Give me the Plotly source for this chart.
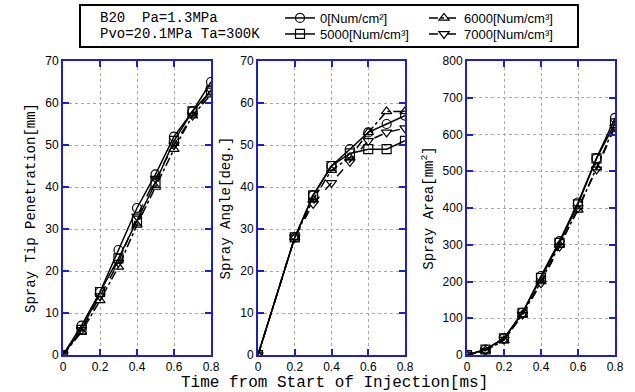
import plotly.graph_objects as go

# ---------------- data ----------------
t_pen = [0, 0.1, 0.2, 0.3, 0.4, 0.5, 0.6, 0.7, 0.8]
pen_0 = [0, 7, 15, 25, 35, 43, 52, 58, 65]
pen_5000 = [0, 6, 15, 23, 32, 41, 51, 58, 63]
pen_6000 = [0, 5.5, 13, 21, 31, 40, 49, 57, 62]
pen_7000 = [0, 6, 14, 22, 33, 42, 50, 57, 63]

t_ang = [0, 0.2, 0.3, 0.4, 0.5, 0.6, 0.7, 0.8]
ang_0 = [0, 28, 38, 45, 49, 53, 55, 57]
ang_5000 = [0, 28, 38, 45, 48, 49, 49, 51]
ang_6000 = [0, 28, 37, 44, 47, 53, 58, 58]
ang_7000 = [0, 28, 36, 41, 46, 51, 53, 54]

t_area = [0, 0.1, 0.2, 0.3, 0.4, 0.5, 0.6, 0.7, 0.8]
area_0 = [0, 15, 45, 115, 215, 310, 415, 535, 645]
area_5000 = [0, 15, 45, 115, 210, 305, 410, 535, 630]
area_6000 = [0, 12, 40, 110, 200, 300, 395, 510, 625]
area_7000 = [0, 12, 42, 110, 195, 295, 400, 505, 620]

series_names = ["0[Num/cm²]", "6000[Num/cm³]", "5000[Num/cm³]", "7000[Num/cm³]"]
series_keys = ["0", "6000", "5000", "7000"]
series_legend = ["legend", "legend", "legend2", "legend2"]
x_ticks = [0, 0.2, 0.4, 0.6, 0.8]
x_tick_text = ["0", "0.2", "0.4", "0.6", "0.8"]

styles = {
    "0": dict(symbol="circle-open", dash="solid"),
    "5000": dict(symbol="square-open", dash="solid"),
    "6000": dict(symbol="triangle-up-open", dash="dashdot"),
    "7000": dict(symbol="triangle-down-open", dash="dash"),
}

panels = [
    (t_pen, {"0": pen_0, "5000": pen_5000, "6000": pen_6000, "7000": pen_7000}),
    (t_ang, {"0": ang_0, "5000": ang_5000, "6000": ang_6000, "7000": ang_7000}),
    (t_area, {"0": area_0, "5000": area_5000, "6000": area_6000, "7000": area_7000}),
]

fig = go.Figure()
W = 635.0
PH = 294.0  # plot height in px
domains = [[63 / W, 211 / W], [258 / W, 405 / W], [467 / W, 615 / W]]

for i, (tx, d) in enumerate(panels):
    xa = "x" if i == 0 else f"x{i+1}"
    ya = "y" if i == 0 else f"y{i+1}"
    for name, key, lg in zip(series_names, series_keys, series_legend):
        st = styles[key]
        fig.add_trace(go.Scatter(
            x=tx, y=d[key], mode="lines+markers", name=name,
            xaxis=xa, yaxis=ya, showlegend=(i == 0), legend=lg,
            line=dict(color="black", width=1.5, dash=st["dash"]),
            marker=dict(symbol=st["symbol"], size=9, color="black",
                        line=dict(width=1.2, color="black")),
        ))

BLUE = "#1f1fc8"
tickfont = dict(family="Liberation Sans, sans-serif", size=12, color="black")
titlefont = dict(family="Liberation Mono, DejaVu Sans Mono, monospace", size=14, color="black")

y_titles = ["Spray Tip Penetration[mm]", "Spray Angle[deg.]", "Spray Area[mm<sup>2</sup>]"]
y_ranges = [[0, 70], [0, 70], [0, 800]]
y_dticks = [10, 10, 100]

axis_common = dict(
    showline=True, linecolor=BLUE, linewidth=2, mirror="ticks",
    ticks="inside", tickcolor=BLUE, ticklen=6, tickwidth=2,
    showgrid=True, gridcolor="#a8a8a8", griddash="dot", gridwidth=1,
    zeroline=False, tickfont=tickfont,
)

for i in range(3):
    sfx = "" if i == 0 else str(i + 1)
    fig.layout["xaxis" + sfx] = dict(
        domain=domains[i], range=[0, 0.8], tickvals=x_ticks, ticktext=x_tick_text,
        anchor="y" + sfx, ticklabelstandoff=0, **axis_common)
    fig.layout["yaxis" + sfx] = dict(
        domain=[0, 1], range=y_ranges[i], dtick=y_dticks[i], anchor="x" + sfx,
        title=dict(text=y_titles[i], font=titlefont, standoff=6), **axis_common)

# legend box and condition text
fig.add_shape(type="rect", xref="paper", yref="paper",
              x0=80 / W, x1=578 / W,
              y0=1 + (61 - 47) / PH, y1=1 + (61 - 5) / PH,
              line=dict(color="black", width=2), fillcolor="white", layer="below")

fig.add_annotation(xref="paper", yref="paper", x=98 / W, y=1 + (61 - 18) / PH,
                   text="B20  Pa=1.3MPa", showarrow=False, xanchor="left", yanchor="middle",
                   font=dict(family="Liberation Mono, monospace", size=14, color="black"))
fig.add_annotation(xref="paper", yref="paper", x=98 / W, y=1 + (61 - 34) / PH,
                   text="Pvo=20.1MPa Ta=300K", showarrow=False, xanchor="left", yanchor="middle",
                   font=dict(family="Liberation Mono, monospace", size=14, color="black"))

fig.add_annotation(xref="paper", yref="paper", x=335 / W, y=0, yshift=-28,
                   text="Time from Start of Injection[ms]", showarrow=False,
                   xanchor="center", yanchor="middle",
                   font=dict(family="Liberation Mono, DejaVu Sans Mono, monospace", size=16, color="black"))

legend_common = dict(
    orientation="h", xanchor="left", yanchor="middle",
    entrywidth=99, entrywidthmode="pixels", bgcolor="rgba(0,0,0,0)",
    font=dict(family="Liberation Sans, sans-serif", size=13, color="black"),
    itemwidth=30, borderwidth=0,
)

fig.update_layout(
    width=635, height=392,
    margin=dict(l=0, r=0, t=61, b=37, autoexpand=False),
    paper_bgcolor="white", plot_bgcolor="white",
    legend=dict(x=280 / W, y=1 + (61 - 18) / PH, **legend_common),
    legend2=dict(x=280 / W, y=1 + (61 - 34) / PH, **legend_common),
)

fig.write_html("out.html", config={"displayModeBar": False},
               post_script="document.body.style.margin='0';")
